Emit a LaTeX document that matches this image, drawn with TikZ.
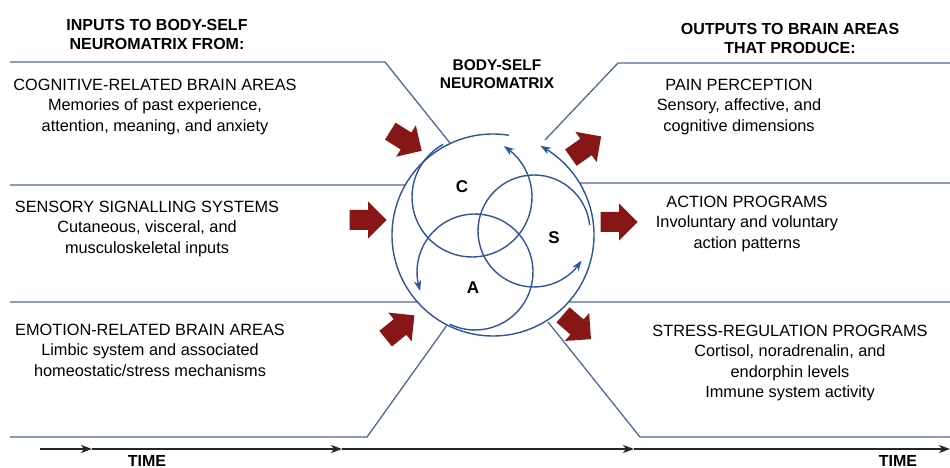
\documentclass[tikz,border=0pt]{standalone}
\usepackage{fontspec}
\setmainfont{Liberation Sans}
\usetikzlibrary{arrows.meta,calc,bending}
\definecolor{panelblue}{RGB}{78,104,158}
\definecolor{circblue}{RGB}{45,85,155}
\definecolor{arrowred}{RGB}{135,22,22}
\definecolor{timedark}{RGB}{45,35,35}
\begin{document}
\begin{tikzpicture}[x=1pt,y=1pt,
  panel/.style={draw=panelblue, line width=1.3pt},
  circ/.style={draw=circblue, line width=1.4pt},
  circarrow/.style={circ, -{Stealth[length=10.5pt,width=7.5pt,flex]}},
  timeline/.style={draw=timedark, line width=1.4pt, -{Stealth[length=11pt,width=8pt,inset=3pt]}},
  body/.style={align=center, font=\fontsize{16.3}{20.5}\selectfont, inner sep=0pt},
  head/.style={align=center, font=\fontsize{16}{19}\selectfont\bfseries, inner sep=0pt},
  letter/.style={font=\fontsize{17}{20}\selectfont\bfseries, inner sep=0pt},
  blockarrow/.pic={\fill[arrowred] (-18.5,-10) -- (0,-10) -- (0,-18.5) -- (18.5,0) -- (0,18.5) -- (0,10) -- (-18.5,10) -- cycle;}
]
\useasboundingbox (0,0) rectangle (950,468);
\fill[white] (0,0) rectangle (950,468);

% centres
\coordinate (O) at (493,233);
\coordinate (Cc) at (472,271);
\coordinate (Ac) at (475,196);
\coordinate (Sc) at (534,237);

% left panel lines
\coordinate (l1a) at (10,406);
\coordinate (l1b) at (385,406);
\coordinate (l1c) at ($(O)+(115:101)$);
\coordinate (l2a) at (10,283);
\coordinate (l2b) at ($(O)+(150.3:101)$);
\coordinate (l3a) at (10,166);
\coordinate (l3b) at ($(O)+(221.5:101)$);
\coordinate (l4a) at (10,31);
\coordinate (l4b) at (367,31);
\coordinate (l4c) at ($(O)+(243:101)$);
\draw[panel] (l1a) -- (l1b) -- (l1c);
\draw[panel] (l2a) -- (l2b);
\draw[panel] (l3a) -- (l3b);
\draw[panel] (l4a) -- (l4b) -- (l4c);

% right panel lines
\coordinate (r1a) at (950,405);
\coordinate (r1b) at (618,405);
\coordinate (r1c) at (545,328);
\coordinate (r2a) at (950,285);
\coordinate (r2b) at ($(O)+(31:101)$);
\coordinate (r3a) at (950,166);
\coordinate (r3b) at ($(O)+(-41.5:101)$);
\coordinate (r4a) at (950,31);
\coordinate (r4b) at (640,31);
\coordinate (r4c) at (548,146);
\draw[panel] (r1a) -- (r1b) -- (r1c);
\draw[panel] (r2a) -- (r2b);
\draw[panel] (r3a) -- (r3b);
\draw[panel] (r4a) -- (r4b) -- (r4c);

% neuromatrix circles
\draw[circarrow] ($(O)+(81:101)$) arc[start angle=81, end angle=422, radius=101pt];
\draw[circarrow] ($(Cc)+(119:60)$) arc[start angle=119, end angle=418, radius=60pt];
\draw[circarrow] ($(Ac)+(244:58)$) arc[start angle=244, end angle=559, radius=58pt];
\draw[circarrow] ($(Sc)+(6:56)$) arc[start angle=6, end angle=328, radius=56pt];

\node[letter] (labC) at (462,281) {C};
\node[letter] (labS) at (554,230) {S};
\node[letter] (labA) at (473,180) {A};

% red block arrows
\pic[rotate=-32] (in1) at (406,327) {blockarrow};
\pic (in2) at (368,248) {blockarrow};
\pic[rotate=39] (in3) at (400,141) {blockarrow};
\pic[rotate=35] (out1) at (586,321) {blockarrow};
\pic (out2) at (619,246) {blockarrow};
\pic[rotate=-41] (out3) at (577,141) {blockarrow};

% time axis
\coordinate (t0) at (40,19);
\coordinate (t1) at (92,19);
\coordinate (t2) at (342,19);
\coordinate (t3) at (634,19);
\coordinate (t4) at (950,19);
\draw[timeline] (t0) -- (t1);
\draw[timeline] (t1) -- (t2);
\draw[timeline] (t2) -- (t3);
\draw[timeline] (t3) -- (t4);
\node[head] (timeL) at (147,7) {TIME};
\node[head] (timeR) at (898,7) {TIME};

% headings
\node[head] (inHead) at (157,434) {INPUTS TO BODY-SELF\\NEUROMATRIX FROM:};
\node[head] (outHead) at (790,430) {OUTPUTS TO BRAIN AREAS\\THAT PRODUCE:};
\node[head, font=\fontsize{15.5}{18}\selectfont\bfseries] (nmHead) at (497,394) {BODY-SELF\\NEUROMATRIX};

% texts
\node[body] (cog) at (155,361) {COGNITIVE-RELATED BRAIN AREAS\\Memories of past experience,\\attention, meaning, and anxiety};
\node[body] (sens) at (147,239) {SENSORY SIGNALLING SYSTEMS\\Cutaneous, visceral, and\\musculoskeletal inputs};
\node[body] (emo) at (150,118) {EMOTION-RELATED BRAIN AREAS\\Limbic system and associated\\homeostatic/stress mechanisms};
\node[body] (pain) at (739,361) {PAIN PERCEPTION\\Sensory, affective, and\\cognitive dimensions};
\node[body] (action) at (747,244) {ACTION PROGRAMS\\Involuntary and voluntary\\action patterns};
\node[body] (stress) at (790,105) {STRESS-REGULATION PROGRAMS\\Cortisol, noradrenalin, and\\endorphin levels\\Immune system activity};
\end{tikzpicture}
\end{document}
